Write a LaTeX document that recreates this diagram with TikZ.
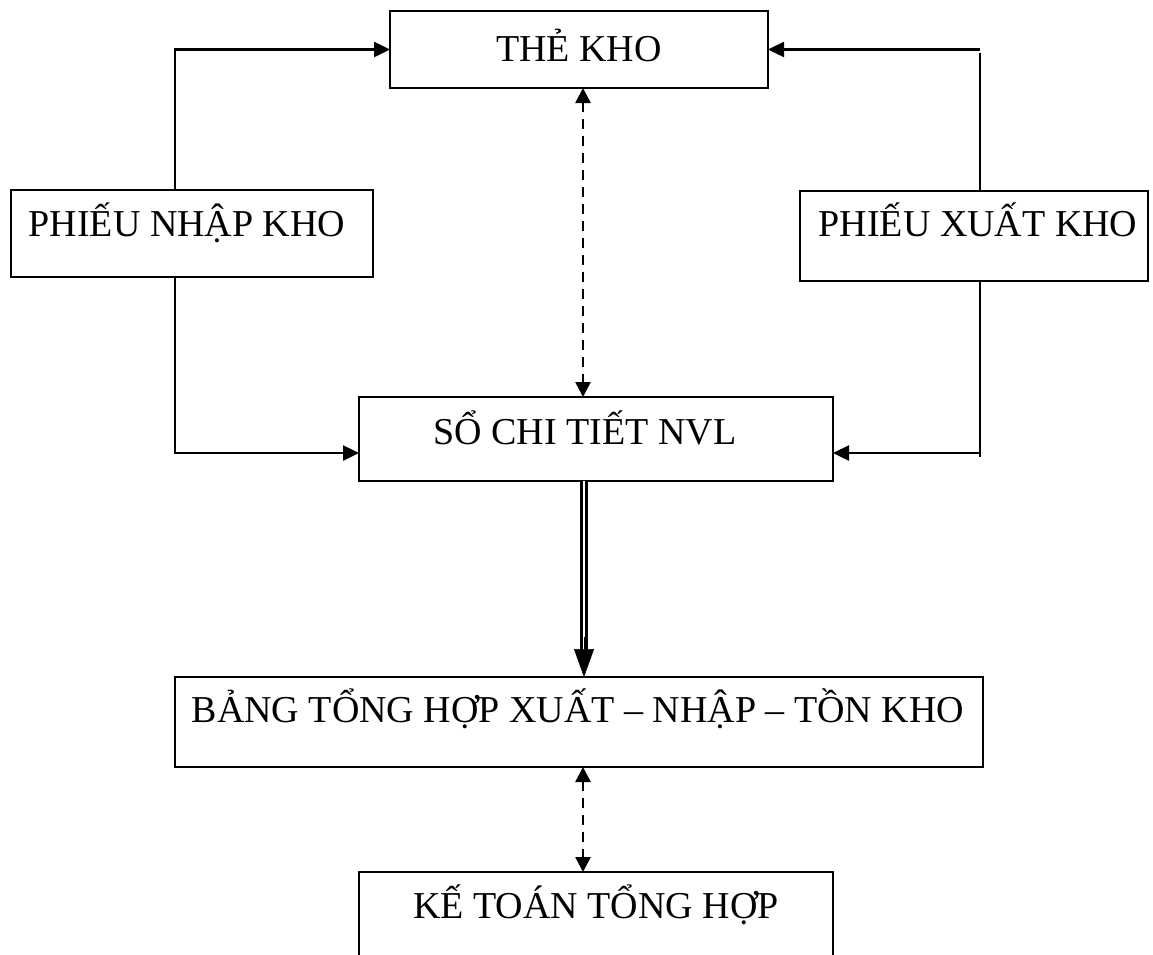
\documentclass[tikz,border=0pt]{standalone}
\usepackage{fontspec}
\setmainfont{Liberation Serif}
\usetikzlibrary{arrows.meta}
\begin{document}
\begin{tikzpicture}[x=1pt,y=-1pt,
  box/.style={draw, line width=2pt, inner sep=0pt, outer sep=0pt, anchor=north west},
  lbl/.style={font=\fontsize{38}{45}\selectfont, inner sep=0pt, anchor=base},
  conn/.style={line width=2.5pt},
  arr/.style={conn, -{Triangle[length=16pt,width=15pt]}},
  darr/.style={conn, dash pattern=on 10pt off 7pt, {Triangle[length=15pt,width=15pt]}-{Triangle[length=15pt,width=15pt]}}]
\clip (0,0) rectangle (1153,954);
\fill[white] (0,0) rectangle (1153,954);
% boxes
\node[box, minimum width=378pt, minimum height=77pt] (the) at (390,11) {};
\node[box, minimum width=362pt, minimum height=87pt] (pn) at (11,190) {};
\node[box, minimum width=348pt, minimum height=90pt] (px) at (800,191) {};
\node[box, minimum width=474pt, minimum height=84pt] (so) at (359,397) {};
\node[box, minimum width=808pt, minimum height=90pt] (bang) at (175,677) {};
\node[box, minimum width=474pt, minimum height=140pt] (kt) at (359,872) {};
% labels
\node[lbl] (tthe) at (579,61) {THẺ KHO};
\node[lbl] (tpn) at (187,236) {PHIẾU NHẬP KHO};
\node[lbl] (tpx) at (978,236) {PHIẾU XUẤT KHO};
\node[lbl] (tso) at (585,444) {SỔ CHI TIẾT NVL};
\node[lbl] (tbang) at (578,722) {BẢNG TỔNG HỢP XUẤT – NHẬP – TỒN KHO};
\node[lbl] (tkt) at (596,918) {KẾ TOÁN TỔNG HỢP};
% helper coordinates
\coordinate (lx) at (175,0);
\coordinate (rx) at (980,0);
\coordinate (dx) at (583,0);
\coordinate (ya) at (0,453);
\coordinate (yb) at (0,457);
% left connectors
\draw[arr] (pn.north -| lx) |- (the.west);
\draw[arr] (pn.south -| lx) -- (lx |- ya) -- (so.west |- ya);
% right connectors
\draw[arr] (the.east -| rx) -- (the.east);
\draw[conn] ([yshift=-3pt]the.east -| rx) -- (px.north -| rx);
\draw[conn] (px.south -| rx) -- (rx |- yb);
\draw[arr] (rx |- ya) -- (so.east |- ya);
% dashed double arrows
\draw[darr] (the.south -| dx) -- (so.north -| dx);
\draw[darr] (bang.south -| dx) -- (kt.north -| dx);
% double arrow
\draw[double, double distance=2pt, line width=2.6pt, shorten >=24pt] ([xshift=1pt]so.south -| dx) -- ([xshift=1pt]bang.north -| dx);
\draw[line width=0.5pt, -{Triangle[length=28pt,width=20pt]}] ([xshift=1pt,yshift=40pt]bang.north -| dx) -- ([xshift=1pt]bang.north -| dx);
\end{tikzpicture}
\end{document}
